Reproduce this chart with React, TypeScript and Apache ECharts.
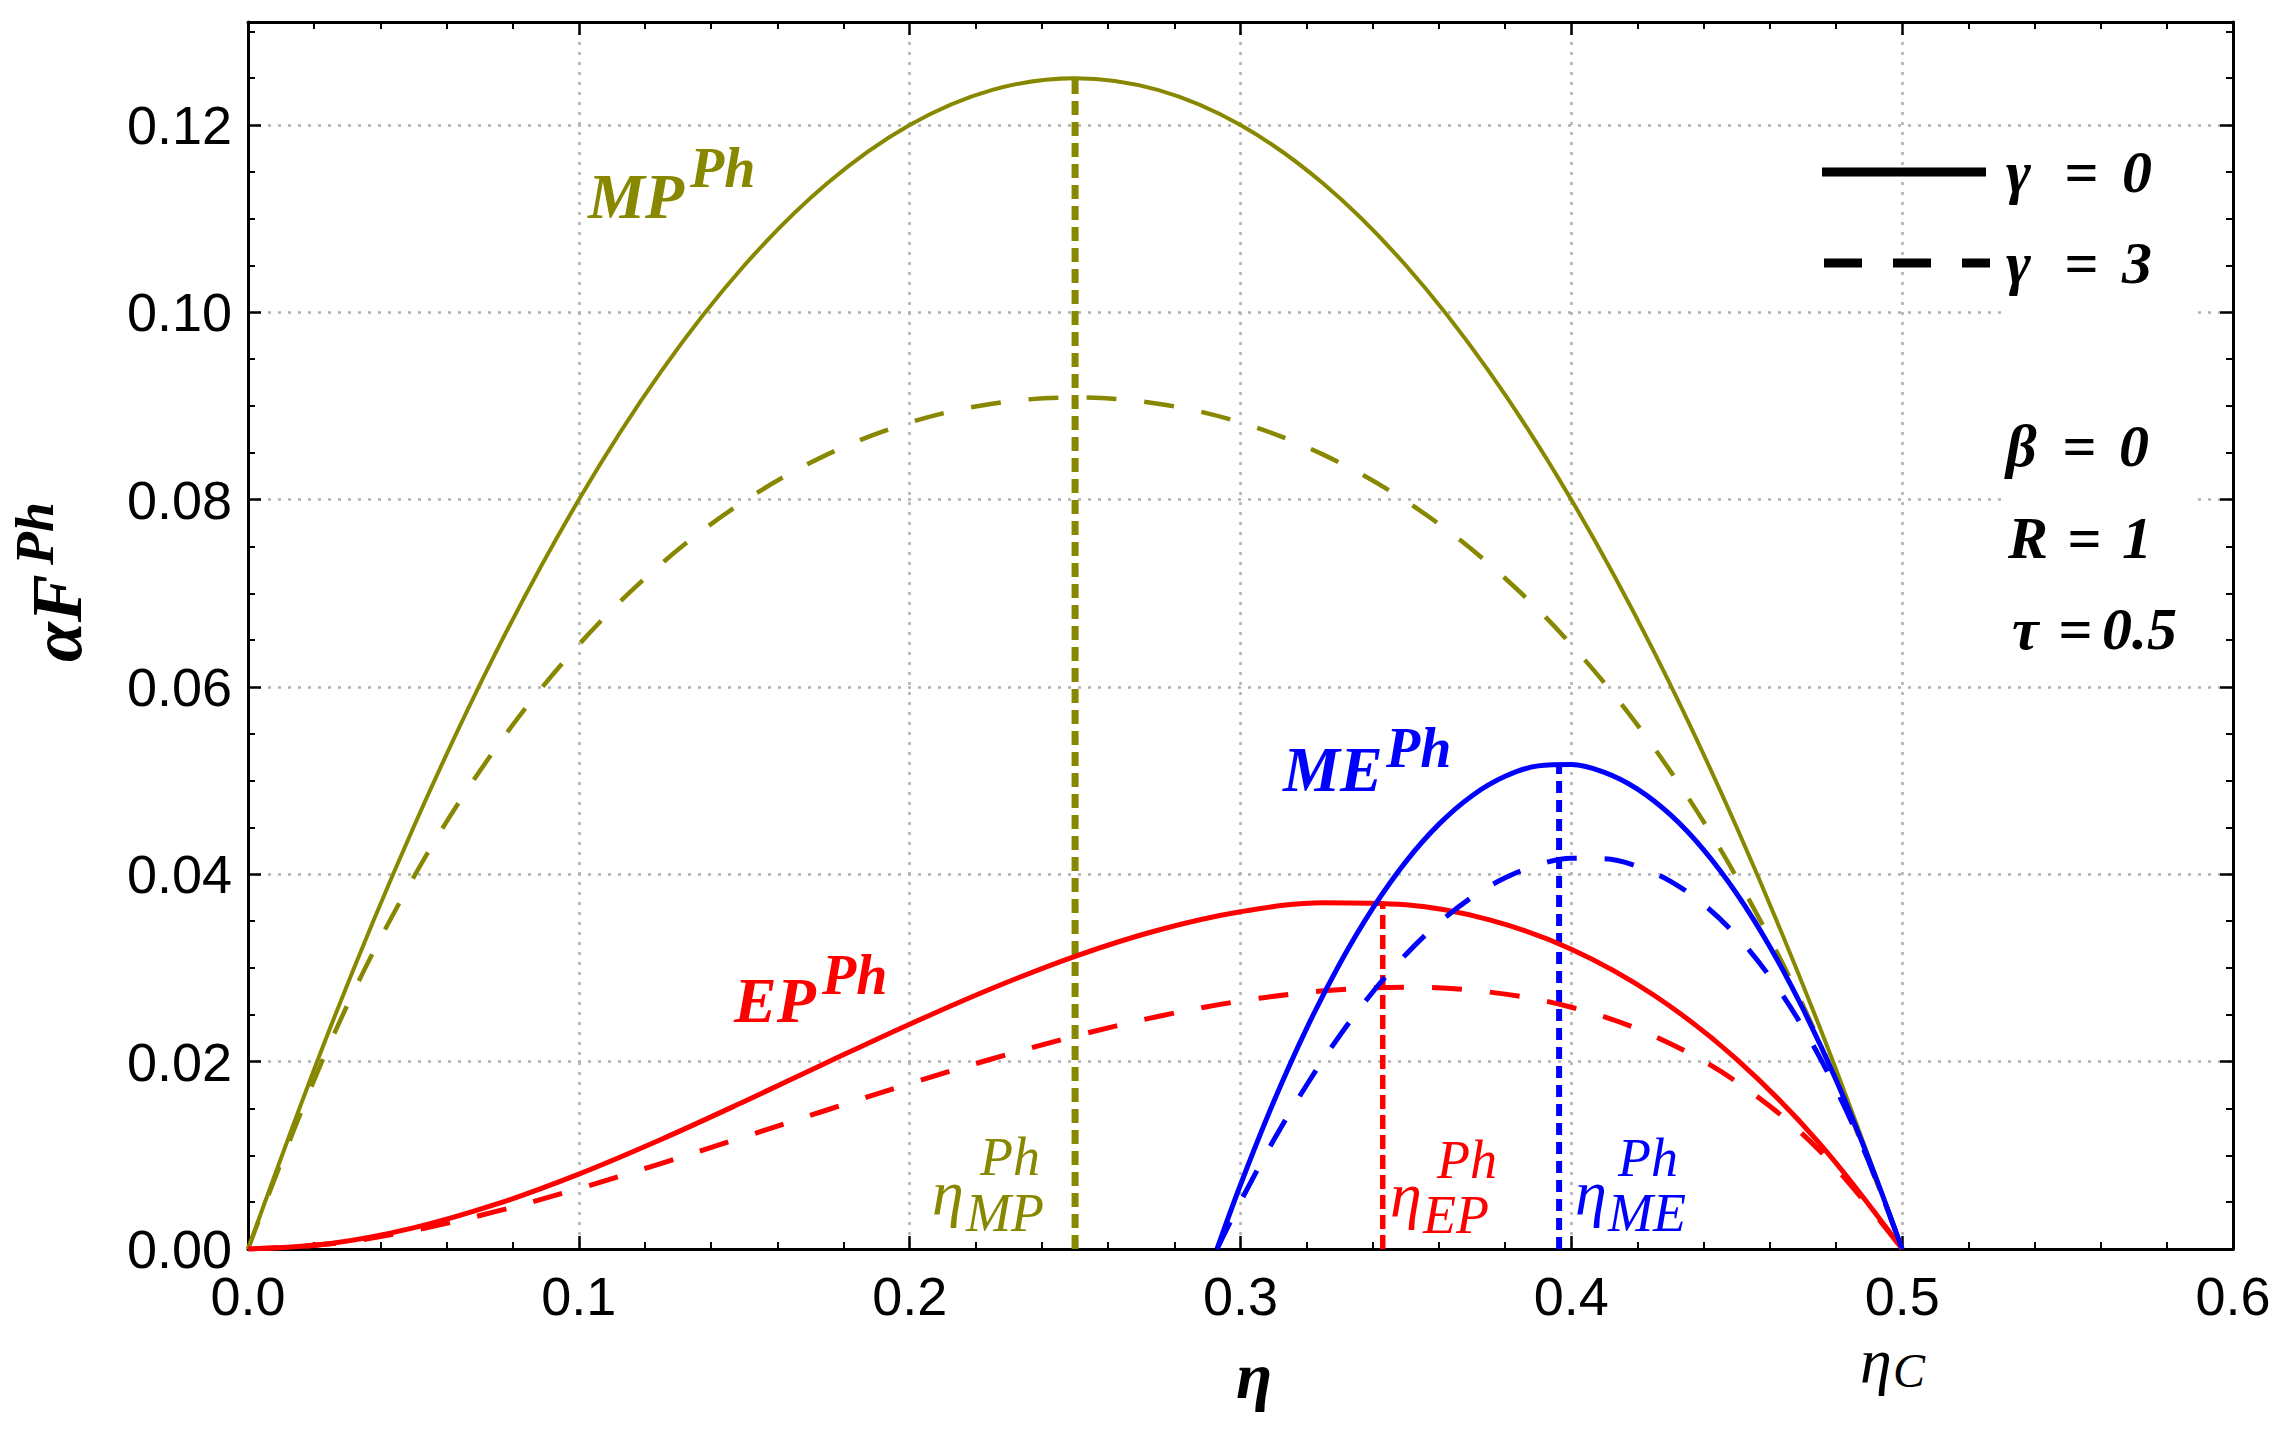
import React, { useEffect, useRef } from "react";
import * as echarts from "echarts";

// ---- data ----
const etaGrid = [0, 0.025, 0.05, 0.075, 0.1, 0.125, 0.15, 0.175, 0.2, 0.225, 0.25, 0.275, 0.3, 0.325, 0.35, 0.375, 0.4, 0.425, 0.45, 0.475, 0.5];
const mpSolid = [0, 0.02375, 0.045, 0.06375, 0.08, 0.09375, 0.105, 0.11375, 0.12, 0.12375, 0.125, 0.12375, 0.12, 0.11375, 0.105, 0.09375, 0.08, 0.06375, 0.045, 0.02375, 0];
const mpDashed = [0, 0.02217, 0.03965, 0.05352, 0.06452, 0.07317, 0.07985, 0.08481, 0.08824, 0.09025, 0.09091, 0.09025, 0.08824, 0.08481, 0.07985, 0.07317, 0.06452, 0.05352, 0.03965, 0.02217, 0];
const epSolid = [0, 0.00059, 0.00225, 0.00478, 0.008, 0.01172, 0.01575, 0.01991, 0.024, 0.02784, 0.03125, 0.03403, 0.036, 0.03697, 0.03675, 0.03516, 0.032, 0.02709, 0.02025, 0.01128, 0];
const epDashed = [0, 0.00055, 0.00198, 0.00401, 0.00645, 0.00915, 0.01198, 0.01484, 0.01765, 0.02031, 0.02273, 0.02482, 0.02647, 0.02756, 0.02795, 0.02744, 0.02581, 0.02274, 0.01784, 0.01053, 0];
const etaME = [0.2929, 0.3, 0.31, 0.32, 0.33, 0.34, 0.35, 0.36, 0.37, 0.38, 0.39, 0.4, 0.41, 0.42, 0.43, 0.44, 0.45, 0.46, 0.47, 0.48, 0.49, 0.5];
const meSolid = [0, 0.00686, 0.01569, 0.02356, 0.03046, 0.03639, 0.04136, 0.04536, 0.0484, 0.05047, 0.05158, 0.05172, 0.05089, 0.0491, 0.04634, 0.04262, 0.03793, 0.03228, 0.02565, 0.01807, 0.00952, 0];
const meDashed = [0, 0.00505, 0.0116, 0.01751, 0.02279, 0.02744, 0.03145, 0.03483, 0.03756, 0.03963, 0.04102, 0.04171, 0.04167, 0.04086, 0.03925, 0.03679, 0.03342, 0.02907, 0.02365, 0.01708, 0.00925, 0];

// optimum markers: [eta, value]
const markerMP = [0.25, 0.125];
const markerEP = [0.343, 0.0369];
const markerME = [0.3963, 0.0518];

const xRange = [0, 0.6];
const yRange = [0, 0.131];
const xStep = 0.1;
const yStep = 0.02;

const OLIVE = "#888800";
const RED = "#ff0000";
const BLUE = "#0000ff";
const SERIF = '"Liberation Serif", "Times New Roman", serif';
const SANS = '"Liberation Sans", Arial, sans-serif';

const pairs = (xs: number[], ys: number[]) => xs.map((x, i) => [x, ys[i]]);

function curve(name: string, xs: number[], ys: number[], color: string, width: number, dash?: number[]) {
  return {
    name,
    type: "line",
    data: pairs(xs, ys),
    smooth: 0.35,
    showSymbol: false,
    symbol: "none",
    silent: true,
    z: 3,
    lineStyle: { color, width, type: dash ? dash : "solid", cap: "butt" },
  };
}

function marker(name: string, m: number[], color: string, width: number, dash: number[]) {
  return {
    name,
    type: "line",
    data: [[m[0], 0], [m[0], m[1]]],
    showSymbol: false,
    symbol: "none",
    silent: true,
    z: 2,
    lineStyle: { color, width, type: dash, cap: "butt" },
  };
}

function txt(x: number, y: number, text: string, size: number, color: string, style = "italic", weight = "bold", align = "left") {
  return {
    type: "text",
    x,
    y,
    z: 10,
    silent: true,
    style: {
      text,
      fill: color,
      font: `${style} ${weight} ${size}px ${SERIF}`,
      align,
      textAlign: align,
      verticalAlign: "middle",
      textVerticalAlign: "middle",
    },
  };
}

const axisLineStyle = { lineStyle: { color: "#000", width: 3 } };
const tickStyle = { show: true, inside: true, length: 13, lineStyle: { color: "#000", width: 2.5 } };
const minorTickX = { show: true, splitNumber: 5, length: 7, lineStyle: { color: "#000", width: 2 } };
const minorTickY = { show: true, splitNumber: 4, length: 7, lineStyle: { color: "#000", width: 2 } };
const gridLine = { show: true, lineStyle: { color: "#b0b0b0", width: 2.5, type: [3, 7] } };

const yFmt = (v: number) => {
  const k = v / yStep;
  return Math.abs(k - Math.round(k)) < 1e-6 ? v.toFixed(2) : "";
};

const option = {
  animation: false,
  backgroundColor: "#fff",
  grid: { left: 248, right: 52, top: 22, bottom: 183, containLabel: false },
  xAxis: [
    {
      type: "value",
      min: xRange[0],
      max: xRange[1],
      interval: xStep,
      position: "bottom",
      axisLine: { show: true, onZero: false, ...axisLineStyle },
      axisTick: tickStyle,
      minorTick: minorTickX,
      splitLine: gridLine,
      axisLabel: { show: true, margin: 20, color: "#000", fontSize: 54, fontFamily: SANS, formatter: (v: number) => v.toFixed(1) },
    },
    {
      type: "value",
      min: xRange[0],
      max: xRange[1],
      interval: xStep,
      position: "top",
      axisLine: { show: true, onZero: false, ...axisLineStyle },
      axisTick: tickStyle,
      minorTick: minorTickX,
      splitLine: { show: false },
      axisLabel: { show: false },
    },
  ],
  yAxis: [
    {
      type: "value",
      min: yRange[0],
      max: yRange[1],
      interval: yStep,
      position: "left",
      axisLine: { show: true, onZero: false, ...axisLineStyle },
      axisTick: tickStyle,
      minorTick: minorTickY,
      splitLine: gridLine,
      axisLabel: { show: true, margin: 16, color: "#000", fontSize: 54, fontFamily: SANS, formatter: yFmt },
    },
    {
      type: "value",
      min: yRange[0],
      max: yRange[1],
      interval: yStep,
      position: "right",
      axisLine: { show: true, onZero: false, ...axisLineStyle },
      axisTick: tickStyle,
      minorTick: minorTickY,
      splitLine: { show: false },
      axisLabel: { show: false },
    },
  ],
  series: [
    marker("etaMP", markerMP, OLIVE, 7, [14, 7]),
    marker("etaEP", markerEP, RED, 5.5, [14, 6]),
    marker("etaME", markerME, BLUE, 6, [12, 7]),
    curve("MP γ=0", etaGrid, mpSolid, OLIVE, 4),
    curve("MP γ=3", etaGrid, mpDashed, OLIVE, 4.5, [30, 28]),
    curve("EP γ=0", etaGrid, epSolid, RED, 5),
    curve("EP γ=3", etaGrid, epDashed, RED, 5, [30, 28]),
    curve("ME γ=0", etaME, meSolid, BLUE, 5),
    curve("ME γ=3", etaME, meDashed, BLUE, 5, [30, 28]),
  ],
  graphic: [
    { type: "rect", z: 1, silent: true, shape: { x: 2001, y: 300, width: 192, height: 350 }, style: { fill: "#fff" } },
    // legend
    { type: "line", z: 10, silent: true, shape: { x1: 1822, y1: 172, x2: 1986, y2: 172 }, style: { stroke: "#000", lineWidth: 9 } },
    { type: "line", z: 10, silent: true, shape: { x1: 1824, y1: 263, x2: 1990, y2: 263 }, style: { stroke: "#000", lineWidth: 9, lineDash: [38, 31] } },
    txt(2006, 172, "γ", 60, "#000"),
    txt(2064, 172, "=", 60, "#000"),
    txt(2122, 172, "0", 60, "#000"),
    txt(2006, 263, "γ", 60, "#000"),
    txt(2064, 263, "=", 60, "#000"),
    txt(2122, 263, "3", 60, "#000"),
    txt(2006, 446, "β", 60, "#000"),
    txt(2062, 446, "=", 60, "#000"),
    txt(2119, 446, "0", 60, "#000"),
    txt(2008, 538, "R", 60, "#000"),
    txt(2067, 538, "=", 60, "#000"),
    txt(2122, 538, "1", 60, "#000"),
    txt(2012, 629, "τ", 60, "#000"),
    txt(2058, 629, "=", 60, "#000"),
    txt(2102, 629, "0.5", 60, "#000"),
    // curve labels
    txt(588, 196, "MP", 64, OLIVE),
    txt(690, 168, "Ph", 56, OLIVE),
    txt(1283, 769, "ME", 64, BLUE),
    txt(1386, 748, "Ph", 56, BLUE),
    txt(734, 1000, "EP", 64, RED),
    txt(822, 975, "Ph", 56, RED),
    // optimum efficiency labels
    txt(932, 1192, "η", 64, OLIVE, "italic", "normal"),
    txt(980, 1157, "Ph", 54, OLIVE, "italic", "normal"),
    txt(966, 1213, "MP", 54, OLIVE, "italic", "normal"),
    txt(1390, 1194, "η", 64, RED, "italic", "normal"),
    txt(1437, 1160, "Ph", 54, RED, "italic", "normal"),
    txt(1423, 1215, "EP", 54, RED, "italic", "normal"),
    txt(1575, 1192, "η", 64, BLUE, "italic", "normal"),
    txt(1618, 1158, "Ph", 54, BLUE, "italic", "normal"),
    txt(1608, 1213, "ME", 54, BLUE, "italic", "normal"),
    // axis names
    txt(1254, 1375, "η", 66, "#000", "italic", "bold", "center"),
    txt(1860, 1360, "η", 64, "#000", "italic", "normal"),
    txt(1893, 1370, "C", 48, "#000", "italic", "normal"),
    {
      type: "group",
      x: 57,
      y: 662,
      rotation: Math.PI / 2,
      z: 10,
      children: [
        txt(0, 0, "αF", 72, "#000"),
        txt(97, -22, "Ph", 54, "#000"),
      ],
    },
  ],
};

export default function App() {
  const ref = useRef<HTMLDivElement>(null);
  useEffect(() => {
    if (!ref.current) return;
    const chart = echarts.init(ref.current, null, { renderer: "svg" });
    chart.setOption(option as any);
    return () => chart.dispose();
  }, []);
  return (
    <div
      ref={ref}
      style={{ position: "fixed", left: 0, top: 0, width: 2285, height: 1432, background: "#fff" }}
    />
  );
}
